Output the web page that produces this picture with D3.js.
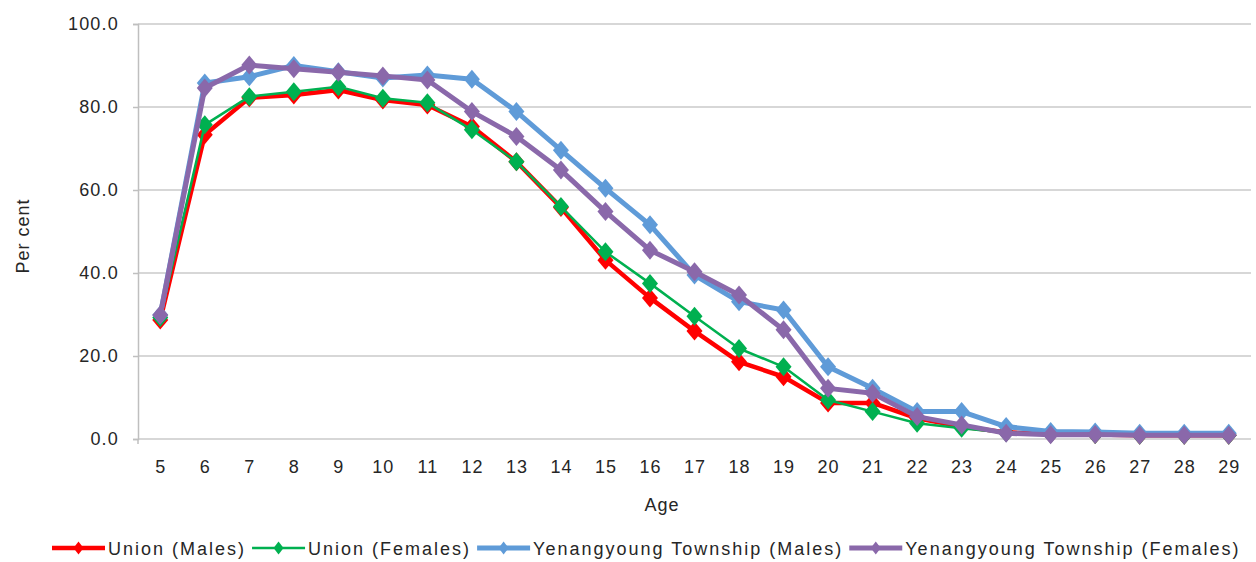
<!DOCTYPE html>
<html>
<head>
<meta charset="utf-8">
<script src="https://cdn.jsdelivr.net/npm/d3@7"></script>
<style>
  body { margin: 0; background: #fff; }
  text { font-family: "Liberation Sans", Arial, sans-serif; fill: #262626; }
</style>
</head>
<body>
<div id="chart"></div>
<script>
// ages on the category axis
const ages = [5, 6, 7, 8, 9, 10, 11, 12, 13, 14, 15, 16, 17, 18, 19, 20, 21, 22, 23, 24, 25, 26, 27, 28, 29];

// per cent values
const unionMales = [28.7, 73.3, 82.2, 82.9, 84.1, 81.7, 80.5, 75.3, 66.8, 55.8, 43.1, 34.0, 26.0, 18.6, 15.0, 8.7, 8.7, 5.0, 3.0, 1.6, 1.2, 1.1, 0.9, 0.9, 0.9];
const unionFemales = [29.3, 75.7, 82.5, 83.7, 84.9, 82.1, 81.0, 74.5, 66.8, 56.0, 45.1, 37.5, 29.6, 21.8, 17.4, 9.4, 6.6, 3.8, 2.6, 1.5, 1.2, 1.1, 0.9, 0.9, 0.9];
const yenMales = [29.9, 85.8, 87.3, 90.0, 88.5, 87.0, 87.7, 86.7, 78.9, 69.6, 60.4, 51.6, 39.5, 33.1, 31.1, 17.4, 12.2, 6.6, 6.6, 3.0, 1.8, 1.7, 1.4, 1.4, 1.4];
const yenFemales = [29.9, 84.6, 90.1, 89.2, 88.4, 87.5, 86.5, 78.9, 72.9, 64.8, 54.8, 45.5, 40.3, 34.7, 26.3, 12.2, 11.0, 5.4, 3.4, 1.4, 1.0, 1.1, 0.9, 0.9, 0.9];

const yTicks = [0, 20, 40, 60, 80, 100];

const series = [
    { name: 'Union (Males)', values: unionMales, color: '#ff0000', width: 4.5 },
    { name: 'Union (Females)', values: unionFemales, color: '#00b050', width: 2.5 },
    { name: 'Yenangyoung Township (Males)', values: yenMales, color: '#5f9bd8', width: 5 },
    { name: 'Yenangyoung Township (Females)', values: yenFemales, color: '#8a68aa', width: 5 }
];

const width = 1256, height = 562;
const plot = { left: 138, right: 1251, top: 24, bottom: 439 };

const svg = d3.select('#chart')
    .append('svg')
    .attr('width', width)
    .attr('height', height);

const x = d3.scalePoint()
    .domain(ages)
    .range([plot.left, plot.right])
    .padding(0.5);

const y = d3.scaleLinear()
    .domain([0, 100])
    .range([plot.bottom, plot.top]);

// gridlines
svg.append('g')
    .selectAll('line')
    .data(yTicks)
    .enter()
    .append('line')
    .attr('x1', plot.left)
    .attr('x2', plot.right)
    .attr('y1', d => y(d))
    .attr('y2', d => y(d))
    .attr('stroke', '#cacaca')
    .attr('stroke-width', 1.5);

// y axis
const yAxis = svg.append('g')
    .attr('transform', `translate(${plot.left},0)`)
    .call(d3.axisLeft(y).tickValues(yTicks).tickFormat(d3.format('.1f')).tickSize(5).tickPadding(14));
yAxis.select('.domain').attr('stroke', '#bfbfbf').attr('stroke-width', 1.5);
yAxis.selectAll('.tick line').attr('stroke', '#bfbfbf').attr('stroke-width', 1.5);
yAxis.selectAll('.tick text')
    .attr('fill', '#262626')
    .style('font-size', '18px')
    .style('letter-spacing', '1.2px');

// x axis labels
const xAxis = svg.append('g')
    .attr('transform', `translate(0,${plot.bottom})`)
    .call(d3.axisBottom(x).tickSize(0).tickPadding(21));
xAxis.select('.domain').remove();
xAxis.selectAll('.tick text')
    .attr('fill', '#262626')
    .style('font-size', '18px')
    .style('letter-spacing', '1px');

svg.append('line')
    .attr('x1', plot.left).attr('x2', plot.left)
    .attr('y1', plot.bottom).attr('y2', plot.bottom + 5)
    .attr('stroke', '#bfbfbf').attr('stroke-width', 1.5);

// axis titles
svg.append('text')
    .attr('x', 662)
    .attr('y', 511)
    .attr('text-anchor', 'middle')
    .style('font-size', '18px')
    .style('letter-spacing', '1px')
    .text('Age');

svg.append('text')
    .attr('transform', 'translate(29,236) rotate(-90)')
    .attr('text-anchor', 'middle')
    .style('font-size', '18px')
    .style('letter-spacing', '1px')
    .text('Per cent');

// diamond marker
const diamond = (cx, cy, r) => `M${cx},${cy - r - 1.5}L${cx + r},${cy}L${cx},${cy + r + 1.5}L${cx - r},${cy}Z`;

const line = d3.line()
    .x((d, i) => x(ages[i]))
    .y(d => y(d));

const lines = svg.append('g');
series.forEach(s => {
    const g = lines.append('g');
    g.append('path')
        .datum(s.values)
        .attr('d', line)
        .attr('fill', 'none')
        .attr('stroke', s.color)
        .attr('stroke-width', s.width)
        .attr('stroke-linejoin', 'round');
    g.selectAll('path.marker')
        .data(s.values)
        .enter()
        .append('path')
        .attr('class', 'marker')
        .attr('d', (d, i) => diamond(x(ages[i]), y(d), 8))
        .attr('fill', s.color);
});

// legend
const legend = svg.append('g');
let lx = 52;
const ly = 548;
series.forEach(s => {
    const item = legend.append('g');
    item.append('line')
        .attr('x1', lx).attr('x2', lx + 53)
        .attr('y1', ly).attr('y2', ly)
        .attr('stroke', s.color)
        .attr('stroke-width', s.width);
    item.append('path')
        .attr('d', diamond(lx + 26.5, ly, 5))
        .attr('fill', s.color);
    const t = item.append('text')
        .attr('x', lx + 56)
        .attr('y', ly + 6.5)
        .style('font-size', '18px')
        .style('letter-spacing', '2px')
        .text(s.name);
    lx += 56 + t.node().getComputedTextLength() + 6;
});
</script>
</body>
</html>
